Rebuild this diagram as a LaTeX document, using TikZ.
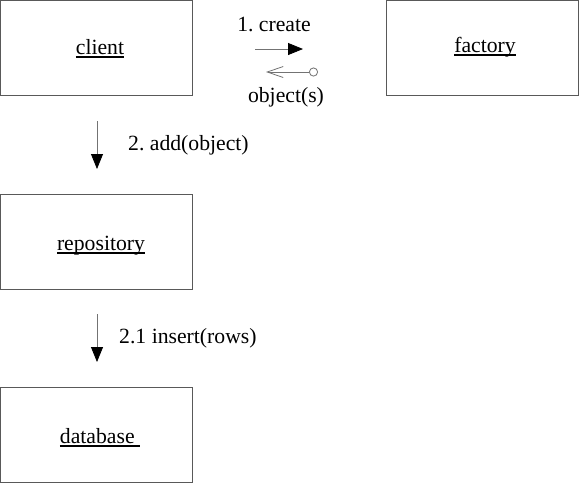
\documentclass[tikz,border=0pt]{standalone}
\usepackage{fontspec}
\setmainfont{Liberation Serif}
\usetikzlibrary{arrows.meta}
\frenchspacing
\newcommand\uln[1]{\leavevmode\setbox0\hbox{#1}\rlap{\raisebox{-3.5pt}{\rule{\wd0}{1.6pt}}}\box0}
\tikzset{
  obj/.style={draw=black!65, line width=1pt, minimum width=192pt, minimum height=95pt, inner sep=0pt},
  lbl/.style={inner sep=0pt, font=\fontsize{21.7}{25}\selectfont\frenchspacing},
  msg/.style={draw=black!55, line width=0.8pt, -{Triangle[length=15pt,width=12pt,black]}},
  ret/.style={draw=black!55, line width=0.8pt, {Straight Barb[length=16pt,width=11pt]}-{Circle[open,length=9pt,width=9pt,fill=white]}}
}
\begin{document}
\begin{tikzpicture}[x=1pt,y=-1pt]
\useasboundingbox (0,0) rectangle (580,483);
\node[obj] (client) at (96.5,48) {};
\node[obj] (factory) at (482.5,48) {};
\node[obj] (repo) at (96.5,241.5) {};
\node[obj] (db) at (96.5,434.5) {};
\node[lbl, anchor=base] (clientlbl) at (100,54) {\uln{client}};
\node[lbl, anchor=base] (factorylbl) at (485,52) {\uln{factory}};
\node[lbl, anchor=base] (repolbl) at (101,250) {\uln{repository}};
\node[lbl, anchor=base] (dblbl) at (100,443) {\uln{database\ }};
\coordinate (c1) at (255,49);
\coordinate (c2) at (303,49);
\draw[msg] (c1) -- (c2);
\node[lbl] (createlbl) at (274,24) {1. create};
\coordinate (r1) at (266,72);
\coordinate (r2) at (318,72);
\draw[ret] (r1) -- (r2);
\node[lbl] (objlbl) at (286,97) {object(s)};
\coordinate (a1) at (97,121);
\coordinate (a2) at (97,169);
\draw[msg] (a1) -- (a2);
\node[lbl, anchor=west] (addlbl) at (128,145) {2. add(object)};
\coordinate (b1) at (97,314);
\coordinate (b2) at (97,362);
\draw[msg] (b1) -- (b2);
\node[lbl, anchor=west] (inslbl) at (119,338) {2.1 insert(rows)};
\end{tikzpicture}
\end{document}
